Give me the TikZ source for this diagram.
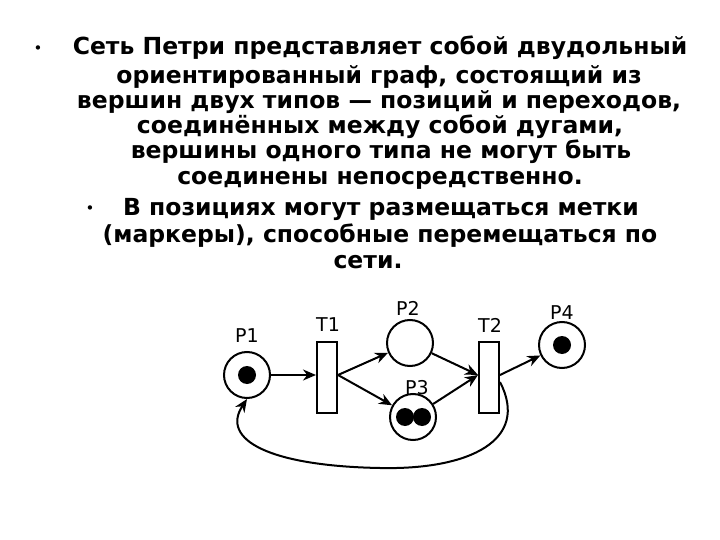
\documentclass[tikz,border=0pt]{standalone}
\usepackage{fontspec}
\setmainfont{DejaVu Sans}
\usetikzlibrary{arrows.meta}
\begin{document}
\begin{tikzpicture}[x=1pt,y=-1pt,
  txt/.style={font=\bfseries\fontsize{23.5}{26}\selectfont, inner sep=0pt, anchor=base},
  bul/.style={font=\fontsize{15}{17}\selectfont, inner sep=0pt, anchor=base},
  place/.style={circle, draw, line width=2pt, minimum size=46pt, inner sep=0pt},
  trans/.style={rectangle, draw, line width=2pt, minimum width=20pt, minimum height=71pt, inner sep=0pt},
  tok/.style={circle, fill=black, minimum size=18pt, inner sep=0pt},
  lbl/.style={font=\fontsize{19}{21}\selectfont, inner sep=0pt},
  arc/.style={line width=2pt, -{Stealth[length=13pt,width=11pt]}}]
\useasboundingbox (0,0) rectangle (720,540);
\node[bul] (b1) at (38,54) {•};
\node[txt] (l1) at (380,55) {Сеть Петри представляет собой двудольный};
\node[txt] (l2) at (379,84) {ориентированный граф, состоящий из};
\node[txt] (l3) at (379,109) {вершин двух типов — позиций и переходов,};
\node[txt] (l4) at (380,134) {соединённых между собой дугами,};
\node[txt] (l5) at (381,159) {вершины одного типа не могут быть};
\node[txt] (l6) at (380,185) {соединены непосредственно.};
\node[bul] (b2) at (90,214) {•};
\node[txt] (l7) at (381,215) {В позициях могут размещаться метки};
\node[txt] (l8) at (380,243) {(маркеры), способные перемещаться по};
\node[txt] (l9) at (368,268) {сети.};

\node[place] (P1) at (247,375) {};
\node[tok] (k1) at (247,375) {};
\node[trans] (T1) at (327,377.5) {};
\node[place] (P2) at (410,343) {};
\node[place] (P3) at (413,417) {};
\node[tok] (k3a) at (405,417) {};
\node[tok] (k3b) at (422,417) {};
\node[trans] (T2) at (489,377.5) {};
\node[place] (P4) at (562,345) {};
\node[tok] (k4) at (562,345) {};

\node[lbl] (lP1) at (247,336) {P1};
\node[lbl] (lT1) at (328,325) {T1};
\node[lbl] (lP2) at (408,308) {P2};
\node[lbl] (lP3) at (417,388) {P3};
\node[lbl] (lT2) at (490,325) {T2};
\node[lbl] (lP4) at (562,313) {P4};

\draw[arc] (P1) -- (T1.west |- P1);
\draw[arc] (T1.east |- P1) -- (P2);
\draw[arc] (T1.east |- P1) -- (P3);
\draw[arc] (P2) -- (T2.west |- P1);
\draw[arc] (P3) -- (T2.west |- P1);
\draw[arc] (T2.east |- P1) -- (P4);
\draw[arc] (T2.east |- 0,382) .. controls (530,440) and (470,470) .. (380,468)
  .. controls (270,466) and (220,440) .. (P1.south);
\end{tikzpicture}
\end{document}
